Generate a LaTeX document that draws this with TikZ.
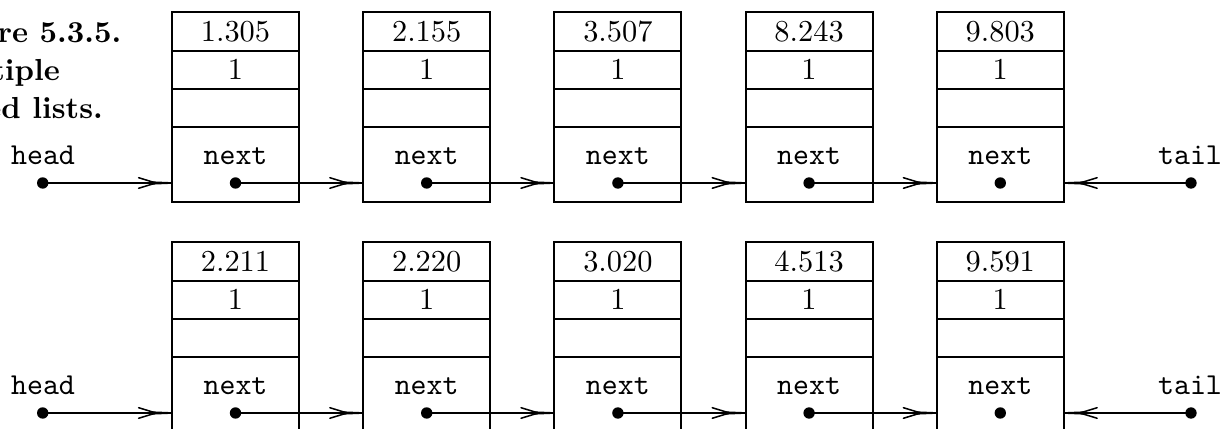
\documentclass[tikz,border=0pt]{standalone}
\usetikzlibrary{arrows.meta}
\pgfdeclarearrow{
  name = Chev,
  setup code = {
    \pgfarrowssettipend{0pt}
    \pgfarrowssetlineend{0pt}
    \pgfarrowssetbackend{-12pt}
    \pgfarrowsupperhullpoint{-12pt}{1.9pt}
    \pgfarrowsupperhullpoint{0pt}{0pt}
  },
  drawing code = {
    \pgfsetdash{}{0pt}
    \pgfsetroundcap
    \pgfsetlinewidth{0.55pt}
    \pgfpathmoveto{\pgfqpoint{-12pt}{1.9pt}}
    \pgfpathlineto{\pgfqpoint{-5.8pt}{0pt}}
    \pgfpathlineto{\pgfqpoint{-12pt}{-1.9pt}}
    \pgfusepathqstroke
    \pgfpathmoveto{\pgfqpoint{-7.5pt}{0.6pt}}
    \pgfpathlineto{\pgfqpoint{0pt}{0.3pt}}
    \pgfpathlineto{\pgfqpoint{0pt}{-0.3pt}}
    \pgfpathlineto{\pgfqpoint{-7.5pt}{-0.6pt}}
    \pgfpathclose
    \pgfusepathqfill
  }
}
\begin{document}
\begin{tikzpicture}[x=0.36pt,y=-0.36pt,
  every node/.style={font=\fontsize{10.95}{13.6}\selectfont, inner sep=0pt, outer sep=0pt},
  cell/.style={draw, line width=0.75pt, minimum width=45.72pt, minimum height=13.79pt},
  nextcell/.style={draw, line width=0.75pt, minimum width=45.72pt, minimum height=26.93pt},
  ttlab/.style={font=\fontsize{10.95}{13.6}\selectfont\ttfamily, anchor=base},
  dot/.style={circle, fill, minimum size=4.1pt},
  conn/.style={line width=0.45pt, -Chev},
  capt/.style={font=\fontsize{10.95}{13.6}\selectfont\bfseries, anchor=base west}]
\clip (0,0) rectangle (1231,429);
\useasboundingbox (0,0) rectangle (1231,429);

% caption (clipped at the left edge, as in the reference)
\node[capt] (cap1) at (-71,43) {Figure 5.3.5.};
\node[capt] (cap2) at (-71,81) {Multiple};
\node[capt] (cap3) at (-71,119) {linked lists.};

% ---------- first list ----------
\foreach \v [count=\i] in {1.305,2.155,3.507,8.243,9.803}{
  \pgfmathsetmacro\cx{235.5+191.2*(\i-1)}
  \node[cell] (av\i) at (\cx,31.45) {\v};
  \node[cell] (ac\i) at (\cx,69.75) {1};
  \node[cell] (ae\i) at (\cx,108.05) {};
  \node[nextcell] (an\i) at (\cx,164.6) {};
  \node[ttlab] (at\i) at (\cx,165) {next};
  \node[dot] (ad\i) at (\cx,183) {};
}
\foreach \i/\j in {1/2,2/3,3/4,4/5}
  \draw[conn] (ad\i.center) -- (ad\i.center -| an\j.west);
\node[dot] (ahd) at (42.7,183) {};
\node[ttlab] (ahl) at (43,165) {head};
\draw[conn] (ahd.center) -- (ahd.center -| an1.west);
\node[dot] (atd) at (1191,183) {};
\node[ttlab] (atl) at (1190,165) {tail};
\draw[conn] (atd.center) -- (atd.center -| an5.east);

% ---------- second list ----------
\foreach \v [count=\i] in {2.211,2.220,3.020,4.513,9.591}{
  \pgfmathsetmacro\cx{235.5+191.2*(\i-1)}
  \node[cell] (bv\i) at (\cx,261.45) {\v};
  \node[cell] (bc\i) at (\cx,299.75) {1};
  \node[cell] (be\i) at (\cx,338.05) {};
  \node[nextcell] (bn\i) at (\cx,394.6) {};
  \node[ttlab] (bt\i) at (\cx,395) {next};
  \node[dot] (bd\i) at (\cx,413) {};
}
\foreach \i/\j in {1/2,2/3,3/4,4/5}
  \draw[conn] (bd\i.center) -- (bd\i.center -| bn\j.west);
\node[dot] (bhd) at (42.7,413) {};
\node[ttlab] (bhl) at (43,395) {head};
\draw[conn] (bhd.center) -- (bhd.center -| bn1.west);
\node[dot] (btd) at (1191,413) {};
\node[ttlab] (btl) at (1190,395) {tail};
\draw[conn] (btd.center) -- (btd.center -| bn5.east);
\end{tikzpicture}
\end{document}
